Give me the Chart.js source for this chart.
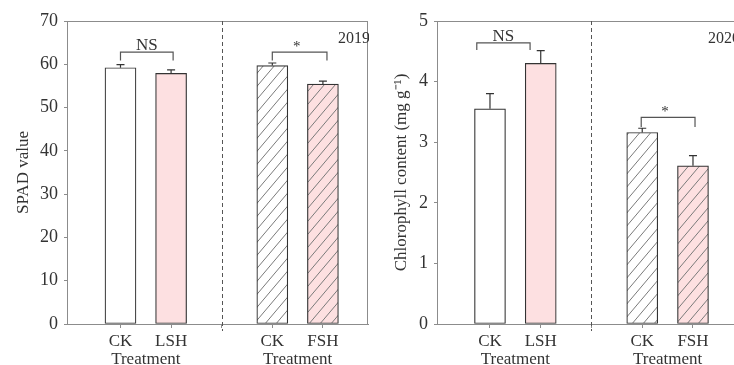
<!DOCTYPE html>
<html>
<head>
<meta charset="utf-8">
<script src="https://cdn.jsdelivr.net/npm/chart.js@4.4.1/dist/chart.umd.min.js"></script>
<style>
  html, body { margin: 0; padding: 0; background: #fff; overflow: hidden; width: 734px; height: 365px; }
  #wrapL { position: absolute; left: 0; top: 0; width: 369px; height: 365px; }
  #wrapR { position: absolute; left: 367px; top: 0; width: 372px; height: 365px; }
</style>
</head>
<body>
<div id="wrapL"><canvas id="chartSpad" width="369" height="365"></canvas></div>
<div id="wrapR"><canvas id="chartChl" width="372" height="365"></canvas></div>
<script>
// ---- data ----
const positions = [1, 2, 4, 5];              // 3 is the divider between the two groups
const tickLabels = ['CK', 'LSH', '', 'CK', 'FSH'];
const groupTitle = ['Treatment', 'Treatment'];
const groupCenters = [1.5, 4.5];

const spadMeans = [59.2, 57.9, 59.7, 55.4];
const spadErr = [0.7, 0.8, 0.6, 0.7];
const spadTicks = [0, 10, 20, 30, 40, 50, 60, 70];

const chlMeans = [3.55, 4.30, 3.16, 2.61];
const chlErr = [0.25, 0.21, 0.07, 0.17];
const chlTicks = [0, 1, 2, 3, 4, 5];

// significance brackets: [x0, x1, y, drop, label]
const spadSig = [[1, 2.04, 62.8, 1.9, 'NS'], [4, 5.08, 62.8, 1.9, '*']];
const chlSig = [[0.74, 1.79, 4.64, 0.12, 'NS'], [3.98, 5.04, 3.41, 0.16, '*']];

const FONT = '"Liberation Serif", "Times New Roman", serif';
const TXT = '#333';
const FRAME = '#8c8c8c';
const PINK = '#fde0e1';

function hatch(bg) {
    const w = 11, h = 13;
    const c = document.createElement('canvas');
    c.width = w; c.height = h;
    const g = c.getContext('2d');
    g.fillStyle = bg;
    g.fillRect(0, 0, w, h);
    g.strokeStyle = '#7a7a7a';
    g.lineWidth = 1;
    g.beginPath();
    g.moveTo(-w, 2 * h); g.lineTo(2 * w, -h);
    g.moveTo(-2 * w, 2 * h); g.lineTo(w, -h);
    g.moveTo(0, 2 * h); g.lineTo(3 * w, -h);
    g.stroke();
    return g.createPattern(c, 'repeat');
}

function makeChart(id, means, errs, ticksArr, yMax, yTitle, titlePad, sig, year, xMin, xMax, yWidth) {
    const fills = ['#ffffff', PINK, hatch('#ffffff'), hatch(PINK)];

    const extras = {
        id: 'extras',
        afterDatasetsDraw(chart) {
            const ctx = chart.ctx;
            const x = chart.scales.x, y = chart.scales.y;
            const a = chart.chartArea;
            ctx.save();

            // top / right frame
            ctx.strokeStyle = FRAME;
            ctx.lineWidth = 1;
            ctx.beginPath();
            ctx.moveTo(a.left, a.top + 0.5); ctx.lineTo(a.right, a.top + 0.5);
            ctx.moveTo(a.right - 0.5, a.top); ctx.lineTo(a.right - 0.5, a.bottom);
            ctx.stroke();

            // dashed divider
            const dx = Math.round(x.getPixelForValue(3)) + 0.5;
            ctx.strokeStyle = '#555';
            ctx.setLineDash([4, 3]);
            ctx.beginPath();
            ctx.moveTo(dx, a.top); ctx.lineTo(dx, a.bottom + 7);
            ctx.stroke();
            ctx.setLineDash([]);

            // error bars (upper only)
            ctx.strokeStyle = '#333';
            ctx.lineWidth = 1.2;
            positions.forEach((p, i) => {
                const px = x.getPixelForValue(p);
                const y0 = y.getPixelForValue(means[i]);
                const y1 = y.getPixelForValue(means[i] + errs[i]);
                ctx.beginPath();
                ctx.moveTo(px, y0); ctx.lineTo(px, y1);
                ctx.moveTo(px - 4, y1); ctx.lineTo(px + 4, y1);
                ctx.stroke();
            });

            // significance brackets
            ctx.strokeStyle = '#555';
            ctx.lineWidth = 1.2;
            ctx.fillStyle = TXT;
            ctx.textAlign = 'center';
            ctx.textBaseline = 'alphabetic';
            sig.forEach(s => {
                const l = x.getPixelForValue(s[0]), r = x.getPixelForValue(s[1]);
                const t = y.getPixelForValue(s[2]), b = y.getPixelForValue(s[2] - s[3]);
                ctx.beginPath();
                ctx.moveTo(l, b); ctx.lineTo(l, t); ctx.lineTo(r, t); ctx.lineTo(r, b);
                ctx.stroke();
                if (s[4] === '*') {
                    ctx.font = '15px ' + FONT;
                    ctx.fillText('*', (l + r) / 2 - 3, t - 1);
                } else {
                    ctx.font = '17px ' + FONT;
                    ctx.fillText(s[4], (l + r) / 2, t - 2);
                }
            });

            // year label
            ctx.font = '16px ' + FONT;
            ctx.textAlign = 'left';
            ctx.fillText(year, a.right - 30, a.top + 22);

            // group titles under the x ticks
            ctx.textAlign = 'center';
            ctx.font = '17px ' + FONT;
            groupCenters.forEach((g, i) => {
                ctx.fillText(groupTitle[i], x.getPixelForValue(g), a.bottom + 40);
            });
            ctx.restore();
        }
    };

    return new Chart(document.getElementById(id), {
        type: 'bar',
        data: {
            datasets: [{
                data: positions.map((p, i) => ({ x: p, y: means[i] })),
                backgroundColor: fills,
                borderColor: '#333',
                borderWidth: 1.2,
                borderSkipped: false,
                barThickness: 31
            }]
        },
        options: {
            responsive: false,
            animation: false,
            devicePixelRatio: 1,
            layout: { padding: { left: 0, top: 21, right: 1, bottom: 0 } },
            plugins: { legend: { display: false }, tooltip: { enabled: false } },
            scales: {
                x: {
                    type: 'linear',
                    offset: false,
                    min: xMin,
                    max: xMax,
                    afterBuildTicks: s => { s.ticks = [1, 2, 3, 4, 5].map(v => ({ value: v })); },
                    afterFit: s => { s.height = 41; },
                    grid: { drawOnChartArea: false, offset: false, tickLength: 4, color: FRAME },
                    border: { color: FRAME, width: 1 },
                    ticks: {
                        autoSkip: false,
                        maxRotation: 0,
                        padding: 3,
                        color: TXT,
                        font: { family: FONT, size: 17 },
                        callback: v => tickLabels[v - 1] || ''
                    }
                },
                y: {
                    min: 0,
                    max: yMax,
                    afterBuildTicks: s => { s.ticks = ticksArr.map(v => ({ value: v })); },
                    afterFit: s => { s.width = yWidth; },
                    grid: { drawOnChartArea: false, tickLength: 3, color: FRAME },
                    border: { color: FRAME, width: 1 },
                    ticks: { padding: 6, color: TXT, font: { family: FONT, size: 18 } },
                    title: {
                        display: true,
                        text: yTitle,
                        color: TXT,
                        font: { family: FONT, size: 17 },
                        padding: { top: titlePad, bottom: 0 }
                    }
                }
            }
        },
        plugins: [extras]
    });
}

makeChart('chartSpad', spadMeans, spadErr, spadTicks, 70, 'SPAD value', 13, spadSig, '2019', -0.057, 5.891, 67);
makeChart('chartChl', chlMeans, chlErr, chlTicks, 5, 'Chlorophyll content (mg g\u207B\u00B9)', 24, chlSig, '2020', -0.044, 5.887, 70);
</script>
</body>
</html>
